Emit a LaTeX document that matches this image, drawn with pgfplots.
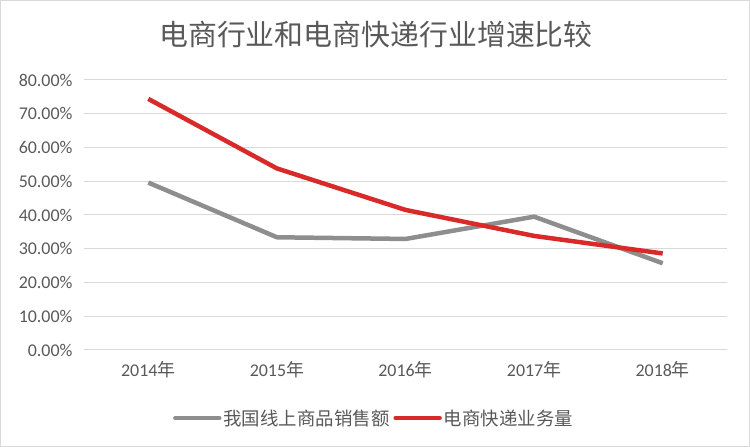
\documentclass[border=0pt]{standalone}
\usepackage{fontspec}
\setmainfont{Carlito}
\newfontfamily\cjk{Noto Sans CJK SC}
\usepackage{pgfplots}
\pgfplotsset{compat=1.18}
\definecolor{txt}{HTML}{595959}
\definecolor{grd}{HTML}{D9D9D9}
\definecolor{sred}{HTML}{D92A2A}
\definecolor{sgray}{HTML}{8E8E8E}

\begin{document}
\begin{tikzpicture}[x=1bp,y=1bp]
\path[use as bounding box] (0,0) rectangle (750,447);
\draw[grd, line width=1bp] (0.5,0.5) rectangle (749.5,446.5);
\node[txt, font=\cjk\fontsize{29}{31}\selectfont] at (376,412) {电商行业和电商快递行业增速比较};
\begin{axis}[
    at={(84bp,97bp)}, anchor=south west,
    scale only axis, width=643bp, height=270bp,
    xmin=-0.5, xmax=4.5, ymin=0, ymax=80,
    xtick={0,1,2,3,4},
    xticklabels={2014{\cjk 年},2015{\cjk 年},2016{\cjk 年},2017{\cjk 年},2018{\cjk 年}},
    ytick={0,10,20,30,40,50,60,70,80},
    yticklabels={0.00\%,10.00\%,20.00\%,30.00\%,40.00\%,50.00\%,60.00\%,70.00\%,80.00\%},
    axis line style={draw=none},
    major tick length=0pt,
    ymajorgrids,
    grid style={grd, line width=1bp},
    tick label style={txt, font=\fontsize{18}{20}\selectfont},
    yticklabel style={xshift=-8bp},
    xticklabel style={yshift=-8bp},
    legend columns=2,
    legend style={at={(0.451,-0.252)}, anchor=center, draw=none, fill=none,
        font=\cjk\fontsize{18.5}{20}\selectfont, text=txt,
        /tikz/every even column/.append style={column sep=2bp}},
    legend image code/.code={\draw[#1, line cap=round] (0bp,0bp) -- (44bp,0bp);},
]
\addplot[sgray, line width=4.5bp, line join=round] coordinates {
    (0,49.6) (1,33.4) (2,32.9) (3,39.5) (4,25.7)
};
\addlegendentry{我国线上商品销售额}
\addplot[sred, line width=4.5bp, line join=round] coordinates {
    (0,74.4) (1,53.8) (2,41.5) (3,33.8) (4,28.6)
};
\addlegendentry{电商快递业务量}
\end{axis}
\end{tikzpicture}
\end{document}
